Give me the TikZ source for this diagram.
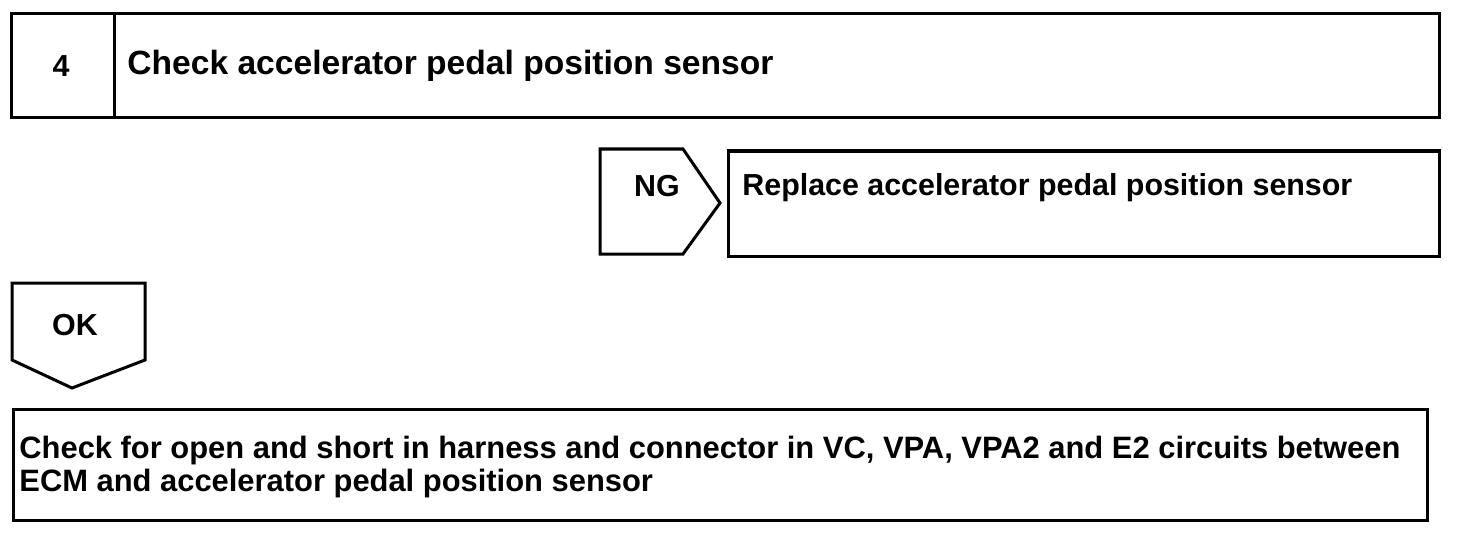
\documentclass[tikz,border=0pt]{standalone}
\usepackage{fontspec}
\setmainfont{Liberation Sans}
\begin{document}
\begin{tikzpicture}[x=0.5pt,y=-0.5pt,
  frame/.style={draw=black,line width=1.5pt,line join=miter},
  lbl/.style={font=\bfseries\fontsize{15.2}{16.8}\selectfont,inner sep=0pt,text=black},
  big/.style={font=\bfseries\fontsize{16.8}{18}\selectfont},
  wide/.style={font=\bfseries\fontsize{15.45}{16.8}\selectfont}]
\useasboundingbox[fill=white] (0,0) rectangle (1472,540);
% top step box
\draw[frame] (11,14) rectangle (1439,118);
\draw[frame] (114,14) -- (114,118);
\node[lbl] (num) at (61,66) {4};
\node[lbl,big,anchor=west] (title) at (127,66) {Check accelerator pedal position sensor};
% NG pentagon
\draw[frame] (600,149) -- (683,149) -- (720,203) -- (683,254) -- (600,254) -- cycle;
\node[lbl] (ng) at (657,186) {NG};
% replace box
\draw[frame] (728,151) rectangle (1439,256);
\node[lbl,anchor=west] (repl) at (742,188) {Replace accelerator pedal position sensor};
% OK pentagon
\draw[frame] (12,283) -- (145,283) -- (145,360) -- (72,388) -- (12,360) -- cycle;
\node[lbl] (ok) at (75,325) {OK};
% bottom box
\draw[frame] (13,409) rectangle (1427,520);
\node[lbl,wide,anchor=west,align=left] (check) at (19,467) {Check for open and short in harness and connector in VC, VPA, VPA2 and E2 circuits between\\ECM and accelerator pedal position sensor};
\end{tikzpicture}
\end{document}
